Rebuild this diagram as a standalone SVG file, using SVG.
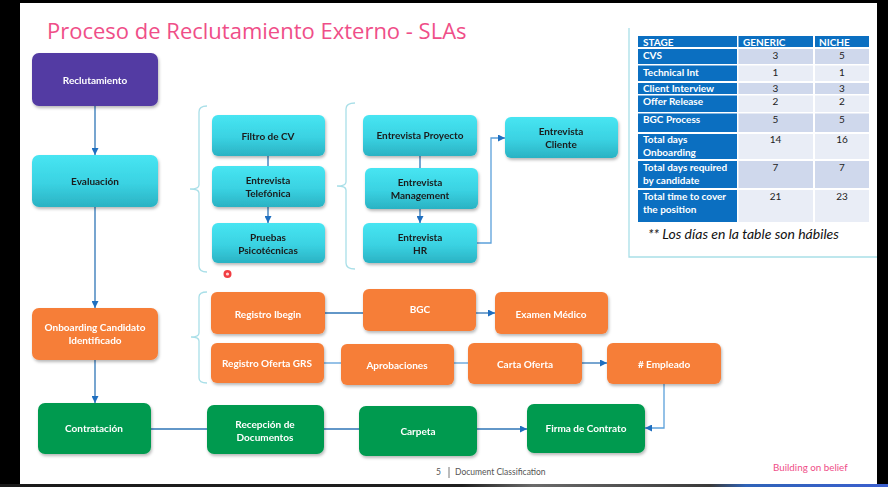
<svg xmlns="http://www.w3.org/2000/svg" width="888" height="487" viewBox="0 0 888 487">
  <defs>
    <linearGradient id="cyanFill" x1="0" y1="0" x2="0" y2="1">
      <stop offset="0" stop-color="#47E5F2"/>
      <stop offset="0.55" stop-color="#3AD2E2"/>
      <stop offset="1" stop-color="#2AB2C3"/>
    </linearGradient>
    <linearGradient id="barFill" x1="0" y1="0" x2="1" y2="0">
      <stop offset="0" stop-color="#1a1a1a"/>
      <stop offset="0.52" stop-color="#1f1f1f"/>
      <stop offset="0.6" stop-color="#6a6a6a"/>
      <stop offset="0.8" stop-color="#3a3a3a"/>
      <stop offset="0.84" stop-color="#2f63b8"/>
      <stop offset="1" stop-color="#3b5fcf"/>
    </linearGradient>
    <filter id="shadow" x="-10%" y="-15%" width="125%" height="140%">
      <feDropShadow dx="1" dy="2" stdDeviation="1.5" flood-color="#000" flood-opacity="0.28"/>
    </filter>
    <marker id="arrow" viewBox="0 0 10 10" refX="10" refY="5" markerWidth="7" markerHeight="7" markerUnits="userSpaceOnUse" orient="auto">
      <path d="M0,0 L10,5 L0,10 Z" fill="#1F6FC0"/>
    </marker>
    <style>
      .node { filter: url(#shadow); }
      .cyan { fill: url(#cyanFill); }
      .orange { fill: #F67E37; }
      .green { fill: #019A4F; }
      .purple { fill: #523BA3; }
      .lbl { font-family: Lato, "Liberation Sans", sans-serif; font-weight: 700; font-size: 10px; text-anchor: middle; }
      .dark { fill: #1b1b1b; }
      .light { fill: #ffffff; }
      .conn { fill: none; stroke: #2E75B6; stroke-width: 1.3; }
      .conn2 { fill: none; stroke: #5BA0DA; stroke-width: 1.3; }
      .brace { fill: none; stroke: #A9DFE8; stroke-width: 1.3; }
      .th { font-family: Lato, "Liberation Sans", sans-serif; font-weight: 700; font-size: 10px; fill: #ffffff; }
      .td { font-family: Lato, "Liberation Sans", sans-serif; font-size: 10px; fill: #222; text-anchor: middle; }
      .hdr { fill: #0B6FC1; }
      .rowA { fill: #CFD8EC; }
      .rowB { fill: #E9EDF6; }
    </style>
  </defs>

  <!-- slide frame -->
  <rect x="0" y="0" width="888" height="487" fill="#000"/>
  <rect x="20" y="3" width="857" height="481" fill="#ffffff"/>
  <rect x="0" y="484" width="888" height="3" fill="url(#barFill)"/>

  <!-- title -->
  <text x="47" y="39" font-family="'Open Sans', 'Liberation Sans', sans-serif" font-size="22" fill="#EF4E88">Proceso de Reclutamiento Externo - SLAs</text>

  <!-- brackets grouping the sub-steps -->
  <g id="brackets">
    <path class="brace" d="M207,106 Q199,106 199,112 L199,185 Q199,189 190,189 Q199,189 199,193 L199,266 Q199,272 207,272"/>
    <path class="brace" d="M355,103 Q346,103 346,109 L346,182 Q346,186 337,186 Q346,186 346,190 L346,263 Q346,269 355,269"/>
    <path class="brace" d="M207,292 Q199,292 199,297 L199,333 Q199,337 191,337 Q199,337 199,341 L199,378 Q199,383 207,383"/>
  </g>

  <!-- connectors -->
  <g id="connectors">
    <path class="conn" d="M95,106 L95,155" marker-end="url(#arrow)"/>
    <path class="conn" d="M95,207 L95,308" marker-end="url(#arrow)"/>
    <path class="conn" d="M95,360 L95,403" marker-end="url(#arrow)"/>
    <path class="conn" d="M268,156 L268,166"/>
    <path class="conn" d="M268,207 L268,223" marker-end="url(#arrow)"/>
    <path class="conn" d="M420,156 L420,168"/>
    <path class="conn" d="M420,209 L420,223" marker-end="url(#arrow)"/>
    <path class="conn2" d="M477,243 L491,243 L491,138 L505,138" marker-end="url(#arrow)"/>
    <path class="conn" d="M325,313 L363,313"/>
    <path class="conn" d="M476,313 L495,313" marker-end="url(#arrow)"/>
    <path class="conn2" d="M324,363 L341,363"/>
    <path class="conn2" d="M454,363 L468,363"/>
    <path class="conn" d="M582,363 L607,363" marker-end="url(#arrow)"/>
    <path class="conn2" d="M664,384 L664,428 L645,428" marker-end="url(#arrow)"/>
    <path class="conn" d="M151,429 L207,429"/>
    <path class="conn" d="M324,429 L359,429"/>
    <path class="conn" d="M477,429 L527,429" marker-end="url(#arrow)"/>
  </g>

  <!-- main stages -->
  <g id="reclutamiento" class="node">
    <rect class="purple" x="32" y="53" width="126" height="53" rx="7"/>
    <text class="lbl light" x="95" y="83.5">Reclutamiento</text>
  </g>
  <g id="evaluacion" class="node">
    <rect class="cyan" x="32" y="155" width="126" height="52" rx="7"/>
    <text class="lbl dark" x="95" y="184.5">Evaluación</text>
  </g>
  <g id="onboarding" class="node">
    <rect class="orange" x="32" y="308" width="126" height="52" rx="7"/>
    <text class="lbl light" x="95" y="331">Onboarding Candidato</text>
    <text class="lbl light" x="95" y="344">Identificado</text>
  </g>
  <g id="contratacion" class="node">
    <rect class="green" x="38" y="403" width="113" height="51" rx="7"/>
    <text class="lbl light" x="94" y="432">Contratación</text>
  </g>

  <!-- evaluation sub-steps -->
  <g id="filtro-cv" class="node">
    <rect class="cyan" x="212" y="115" width="113" height="41" rx="6"/>
    <text class="lbl dark" x="268" y="139.5">Filtro de CV</text>
  </g>
  <g id="entrevista-telefonica" class="node">
    <rect class="cyan" x="212" y="166" width="113" height="41" rx="6"/>
    <text class="lbl dark" x="268" y="184">Entrevista</text>
    <text class="lbl dark" x="268" y="197">Telefónica</text>
  </g>
  <g id="pruebas" class="node">
    <rect class="cyan" x="212" y="223" width="113" height="40" rx="6"/>
    <text class="lbl dark" x="268" y="240.5">Pruebas</text>
    <text class="lbl dark" x="268" y="253.5">Psicotécnicas</text>
  </g>
  <g id="entrevista-proyecto" class="node">
    <rect class="cyan" x="363" y="115" width="114" height="41" rx="6"/>
    <text class="lbl dark" x="420" y="139">Entrevista Proyecto</text>
  </g>
  <g id="entrevista-management" class="node">
    <rect class="cyan" x="365" y="168" width="113" height="41" rx="6"/>
    <text class="lbl dark" x="420" y="185.5">Entrevista</text>
    <text class="lbl dark" x="420" y="199">Management</text>
  </g>
  <g id="entrevista-hr" class="node">
    <rect class="cyan" x="363" y="223" width="114" height="40" rx="6"/>
    <text class="lbl dark" x="420" y="240.5">Entrevista</text>
    <text class="lbl dark" x="420" y="253.5">HR</text>
  </g>
  <g id="entrevista-cliente" class="node">
    <rect class="cyan" x="505" y="117" width="113" height="41" rx="6"/>
    <text class="lbl dark" x="561" y="134.5">Entrevista</text>
    <text class="lbl dark" x="561" y="147.5">Cliente</text>
  </g>

  <!-- onboarding sub-steps -->
  <g id="registro-ibegin" class="node">
    <rect class="orange" x="211" y="292" width="114" height="42" rx="6"/>
    <text class="lbl light" x="268" y="317.5">Registro Ibegin</text>
  </g>
  <g id="bgc" class="node">
    <rect class="orange" x="363" y="289" width="113" height="42" rx="6"/>
    <text class="lbl light" x="420" y="312.5">BGC</text>
  </g>
  <g id="examen-medico" class="node">
    <rect class="orange" x="495" y="292" width="113" height="42" rx="6"/>
    <text class="lbl light" x="551" y="317.5">Examen Médico</text>
  </g>
  <g id="registro-oferta" class="node">
    <rect class="orange" x="211" y="343" width="113" height="40" rx="6"/>
    <text class="lbl light" x="267" y="366.5">Registro Oferta GRS</text>
  </g>
  <g id="aprobaciones" class="node">
    <rect class="orange" x="341" y="344" width="113" height="41" rx="6"/>
    <text class="lbl light" x="397" y="368.5">Aprobaciones</text>
  </g>
  <g id="carta-oferta" class="node">
    <rect class="orange" x="468" y="343" width="114" height="41" rx="6"/>
    <text class="lbl light" x="525" y="367.5">Carta Oferta</text>
  </g>
  <g id="empleado" class="node">
    <rect class="orange" x="607" y="343" width="114" height="41" rx="6"/>
    <text class="lbl light" x="664" y="367.5"># Empleado</text>
  </g>

  <!-- hiring steps -->
  <g id="recepcion" class="node">
    <rect class="green" x="207" y="405" width="117" height="49" rx="7"/>
    <text class="lbl light" x="265" y="427.5">Recepción de</text>
    <text class="lbl light" x="265" y="441">Documentos</text>
  </g>
  <g id="carpeta" class="node">
    <rect class="green" x="359" y="406" width="118" height="50" rx="7"/>
    <text class="lbl light" x="418" y="434.5">Carpeta</text>
  </g>
  <g id="firma" class="node">
    <rect class="green" x="527" y="404" width="118" height="49" rx="7"/>
    <text class="lbl light" x="586" y="432">Firma de Contrato</text>
  </g>

  <!-- pointer mark -->
  <circle cx="227.5" cy="274" r="4" fill="#F0282E" opacity="0.9"/>
  <circle cx="227.5" cy="274" r="1.6" fill="#FFD6D6"/>

  <!-- SLA table -->
  <g id="sla-table">
    <path d="M629,28 L629,257 L877,257" fill="none" stroke="#A9DFE8" stroke-width="1.3"/>
    <!-- header -->
    <rect class="hdr" x="638" y="36" width="99" height="11"/>
    <rect class="hdr" x="738.5" y="36" width="74.5" height="11"/>
    <rect class="hdr" x="815" y="36" width="54" height="11"/>
    <text class="th" x="643" y="45.5">STAGE</text>
    <text class="th" x="743" y="45.5">GENERIC</text>
    <text class="th" x="819" y="45.5">NICHE</text>

    <!-- stage column -->
    <g class="hdr">
      <rect x="638" y="49" width="99" height="15"/>
      <rect x="638" y="65.5" width="99" height="15.5"/>
      <rect x="638" y="83" width="99" height="11"/>
      <rect x="638" y="95.5" width="99" height="16.5"/>
      <rect x="638" y="113.5" width="99" height="18.5"/>
      <rect x="638" y="134" width="99" height="25"/>
      <rect x="638" y="161" width="99" height="27"/>
      <rect x="638" y="190" width="99" height="32"/>
    </g>
    <!-- value cells -->
    <rect class="rowA" x="738.5" y="49" width="74.5" height="15"/>
    <rect class="rowA" x="815" y="49" width="54" height="15"/>
    <rect class="rowB" x="738.5" y="65.5" width="74.5" height="15.5"/>
    <rect class="rowB" x="815" y="65.5" width="54" height="15.5"/>
    <rect class="rowA" x="738.5" y="83" width="74.5" height="11"/>
    <rect class="rowA" x="815" y="83" width="54" height="11"/>
    <rect class="rowB" x="738.5" y="95.5" width="74.5" height="16.5"/>
    <rect class="rowB" x="815" y="95.5" width="54" height="16.5"/>
    <rect class="rowA" x="738.5" y="113.5" width="74.5" height="18.5"/>
    <rect class="rowA" x="815" y="113.5" width="54" height="18.5"/>
    <rect class="rowB" x="738.5" y="134" width="74.5" height="25"/>
    <rect class="rowB" x="815" y="134" width="54" height="25"/>
    <rect class="rowA" x="738.5" y="161" width="74.5" height="27"/>
    <rect class="rowA" x="815" y="161" width="54" height="27"/>
    <rect class="rowB" x="738.5" y="190" width="74.5" height="32"/>
    <rect class="rowB" x="815" y="190" width="54" height="32"/>

    <text class="th" x="643" y="58.5">CVS</text>
    <text class="th" x="643" y="76">Technical Int</text>
    <text class="th" x="643" y="92">Client Interview</text>
    <text class="th" x="643" y="105">Offer Release</text>
    <text class="th" x="643" y="123">BGC Process</text>
    <text class="th" x="643" y="143">Total days</text>
    <text class="th" x="643" y="156">Onboarding</text>
    <text class="th" x="643" y="170.5">Total days required</text>
    <text class="th" x="643" y="184">by candidate</text>
    <text class="th" x="643" y="199.5">Total time to cover</text>
    <text class="th" x="643" y="213">the position</text>

    <text class="td" x="775.5" y="58.5">3</text><text class="td" x="842" y="58.5">5</text>
    <text class="td" x="775.5" y="76">1</text><text class="td" x="842" y="76">1</text>
    <text class="td" x="775.5" y="92">3</text><text class="td" x="842" y="92">3</text>
    <text class="td" x="775.5" y="105">2</text><text class="td" x="842" y="105">2</text>
    <text class="td" x="775.5" y="123">5</text><text class="td" x="842" y="123">5</text>
    <text class="td" x="775.5" y="143">14</text><text class="td" x="842" y="143">16</text>
    <text class="td" x="775.5" y="170.5">7</text><text class="td" x="842" y="170.5">7</text>
    <text class="td" x="775.5" y="199.5">21</text><text class="td" x="842" y="199.5">23</text>

    <text x="648" y="238.5" font-family="Lato, 'Liberation Sans', sans-serif" font-style="italic" font-size="14" fill="#111">** Los días en la table son hábiles</text>
  </g>

  <!-- footer -->
  <text x="436" y="475" font-family="Lato, 'Liberation Sans', sans-serif" font-size="8.5" fill="#555">5</text>
  <line x1="449" y1="467" x2="449" y2="478" stroke="#555" stroke-width="0.8"/>
  <text x="455" y="475" font-family="Lato, 'Liberation Sans', sans-serif" font-size="8.5" fill="#555">Document Classification</text>
  <text x="773" y="471" font-family="Lato, 'Liberation Sans', sans-serif" font-size="9.8" fill="#EF4E88">Building on belief</text>
</svg>
